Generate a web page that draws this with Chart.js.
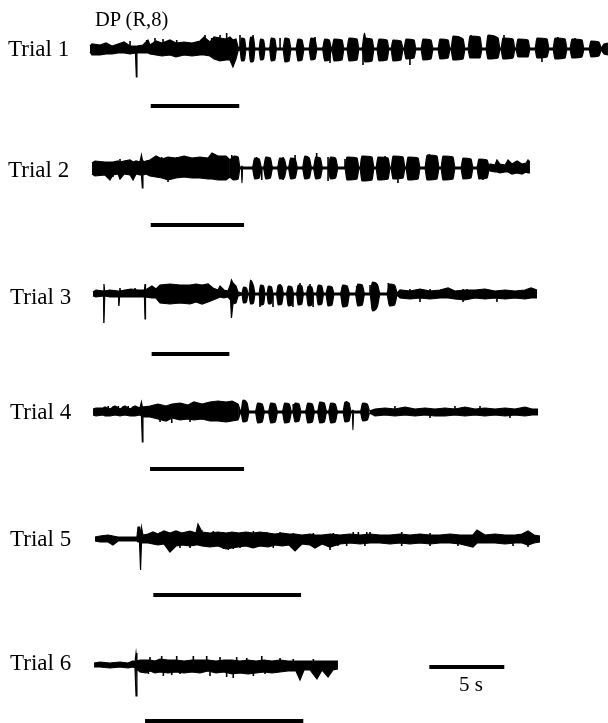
<!DOCTYPE html>
<html>
<head>
<meta charset="utf-8">
<title>DP (R,8)</title>
<script src="https://cdn.jsdelivr.net/npm/chart.js@4.4.1/dist/chart.umd.min.js"></script>
<style>
  html, body { margin: 0; padding: 0; background: #fff; }
  #fig { position: relative; width: 608px; height: 723px; overflow: hidden; }
  #fig canvas { position: absolute; left: 0; top: 0; }
  .txt { position: absolute; font-family: "Liberation Serif", "Times New Roman", serif;
         color: #000; white-space: nowrap; }
</style>
</head>
<body>
<div id="fig">
  <canvas id="chart" width="608" height="723"></canvas>
</div>
<script>
// ---- Text ----
const recordingTitle = 'DP (R,8)';
const trialLabels = ['Trial 1', 'Trial 2', 'Trial 3', 'Trial 4', 'Trial 5', 'Trial 6'];
const scaleBarLabel = '5 s';

// ---- Stimulus bars (s, relative to stimulus onset) ----
const stimOn  = [0.05, 0.05, 0.11, 0.00, 0.22, -0.33];
const stimOff = [5.95, 6.27, 5.29, 6.27, 10.07, 10.22];
const scaleBarSec = [18.62, 23.62];

// ---- Rectified-envelope traces: time (s), upper and lower excursion (a.u.) ----
const tr1Time = [-4.00,-3.87,-3.33,-2.93,-2.53,-2.13,-1.73,-1.33,-0.97,-0.91,-0.87,-0.47,-0.13,0.00,0.40,0.80,1.33,1.73,2.27,2.80,3.33,3.60,4.00,4.27,4.67,5.07,5.33,5.53,5.73,5.87,
  6.00,6.10,6.30,6.40, 6.60,6.70,6.90,7.00, 7.27,7.37,7.57,7.67, 7.97,8.08,8.32,8.43, 8.87,9.00,9.27,9.40, 9.73,9.87,10.13,10.27, 10.60,10.73,11.00,11.13, 11.50,11.65,11.95,12.10, 12.13,12.27,12.80,12.93, 13.13,13.27,13.80,13.93,
  14.13,14.30,14.37,14.80,14.93,
  15.13,15.27,15.80,15.93, 16.07,16.20,16.73,16.87, 16.93,17.07,17.60,17.73, 18.07,18.20,18.73,18.87, 19.20,19.33,19.87,20.00, 20.07,20.20,20.87,21.00, 21.20,21.33,22.00,22.13, 22.40,22.53,23.20,23.33, 23.40,23.53,24.20,24.33, 24.40,24.53,25.20,25.33, 25.67,25.80,26.47,26.60, 26.87,27.00,27.67,27.80, 28.00,28.13,28.80,28.93, 29.27,29.40,29.93,30.07,
  30.27,30.53];
const tr1Hi = [3,5,4,6,3,5,7,3,3,2,3,4,9,4,8,6,9,6,7,6,8,12,7,12,11,10,12,9,10,2,
  1,11,10,1, 1,12,11,1, 1,10,9,1, 1,11,10,1, 1,11,10,1, 1,10,9,1, 1,11,10,1, 1,10,9,1, 1,10,9,1, 1,11,10,1,
  1,16,11,10,1,
  1,10,9,1, 1,9,8,1, 1,10,9,1, 1,10,9,1, 1,10,9,1, 1,13,10,1, 1,13,12,1, 1,14,11,1, 1,11,10,1, 1,10,9,1, 1,11,10,1, 1,11,10,1, 1,10,9,1, 1,8,7,1,
  5,6];
const tr1Lo = [-3,-6,-6,-5,-5,-4,-4,-5,-4,-28,-4,-4,-4,-5,-6,-7,-6,-8,-6,-7,-6,-6,-7,-10,-12,-11,-11,-18,-10,-2,
  -1,-12,-11,-1, -1,-13,-12,-1, -1,-11,-10,-1, -1,-12,-11,-1, -1,-13,-12,-1, -1,-12,-11,-1, -1,-11,-10,-1, -1,-12,-11,-1, -1,-12,-11,-1, -1,-12,-11,-1,
  -1,-12,-13,-12,-1,
  -1,-12,-11,-1, -1,-12,-11,-1, -1,-10,-9,-1, -1,-11,-10,-1, -1,-10,-9,-1, -1,-11,-10,-1, -1,-9,-9,-1, -1,-10,-9,-1, -1,-10,-9,-1, -1,-8,-8,-1, -1,-9,-8,-1, -1,-10,-9,-1, -1,-9,-8,-1, -1,-8,-7,-1,
  -5,-6];

const tr2Time = [-3.87,-3.67,-3.00,-2.67,-2.47,-2.13,-2.00,-1.73,-1.33,-1.13,-0.93,-0.67,-0.57,-0.51,-0.47,-0.27,0.00,0.40,0.80,1.20,1.73,2.27,2.80,3.33,3.87,4.13,4.53,5.07,5.33,
  5.60,5.87,6.00, 6.10,6.13,6.17,
  6.83,6.98,7.28,7.43, 7.57,7.72,8.02,8.17, 8.50,8.65,8.95,9.10, 9.23,9.38,9.68,9.83, 10.17,10.32,10.62,10.77, 10.90,11.05,11.35,11.50, 11.87,12.03,12.37,12.53, 13.00,13.13,13.80,13.93, 14.00,14.13,14.80,14.93, 15.07,15.20,15.87,16.00, 16.07,16.20,16.87,17.00, 17.07,17.20,17.87,18.00, 18.33,18.47,19.13,19.27, 19.40,19.53,20.20,20.33, 20.73,20.87,21.40,21.53, 21.80,21.93,22.47,22.60,
  22.67,23.00,23.13,23.33,23.67,23.87,24.13,24.47,24.80,25.07,25.20,25.33];
const tr2Hi = [5,7,6,6,6,7,6,7,8,6,7,6,13,8,6,7,8,12,9,11,10,12,10,11,10,15,12,12,8,
  12,11,1, 1,2,1,
  1,10,9,1, 1,11,10,1, 1,10,9,1, 1,10,9,1, 1,12,10,1, 1,11,10,1, 1,11,10,1, 1,11,10,1, 1,12,11,1, 1,11,10,1, 1,12,11,1, 1,11,10,1, 1,13,12,1, 1,12,11,1, 1,10,9,1, 1,9,8,1,
  4,3,8,4,3,8,4,7,4,5,8,6];
const tr2Lo = [-6,-8,-7,-12,-7,-6,-11,-6,-7,-12,-6,-7,-7,-20,-7,-6,-8,-9,-10,-12,-10,-9,-10,-10,-11,-11,-12,-12,-9,
  -12,-11,-1, -1,-15,-1,
  -1,-11,-10,-1, -1,-11,-10,-1, -1,-11,-10,-1, -1,-11,-10,-1, -1,-11,-10,-1, -1,-11,-10,-1, -1,-11,-10,-1, -1,-12,-11,-1, -1,-13,-12,-1, -1,-12,-11,-1, -1,-11,-10,-1, -1,-12,-11,-1, -1,-12,-11,-1, -1,-12,-11,-1, -1,-11,-10,-1, -1,-11,-10,-1,
  -3,-4,-4,-5,-4,-4,-6,-5,-6,-4,-5,-5];

const tr3Time = [-3.80,-3.60,-3.10,-3.07,-3.02,-2.67,-2.10,-2.07,-2.03,-1.67,-1.27,-0.80,-0.37,-0.33,-0.30,0.13,0.40,0.67,1.33,2.00,2.67,3.07,3.47,3.87,4.20,4.53,4.67,4.93,5.20,5.37,5.43,5.53,5.73,5.87,
  6.13,6.23,6.43,6.53, 6.60,6.70,6.90,7.00, 7.27,7.37,7.57,7.67, 7.80,7.90,8.10,8.20, 8.43,8.55,8.78,8.90, 9.10,9.22,9.45,9.57, 9.77,9.88,10.12,10.23, 10.43,10.55,10.78,10.90, 11.10,11.22,11.45,11.57, 11.73,11.87,12.13,12.27, 12.70,12.85,13.15,13.30, 13.70,13.85,14.15,14.30, 14.67,14.83,15.17,15.33, 15.80,15.97,16.30,16.47,
  16.67,17.33,18.00,18.67,19.33,19.87,20.33,21.00,21.67,22.33,23.00,23.67,24.33,25.00,25.40,25.80];
const tr3Hi = [2,4,3,10,3,4,3,3,3,4,5,4,4,10,4,8,5,9,10,9,9,10,9,10,6,4,8,4,3,10,14,11,8,2,
  1,7,6,1, 1,14,8,1, 1,9,8,1, 1,8,7,1, 1,9,8,1, 1,8,7,1, 1,9,8,1, 1,8,7,1, 1,9,8,1, 1,8,7,1, 1,9,8,1, 1,10,9,1, 1,12,9,1, 1,10,9,1,
  4,3,5,3,4,6,3,4,4,5,3,4,3,4,6,4];
const tr3Lo = [-2,-3,-2,-29,-2,-3,-3,-12,-3,-3,-3,-3,-3,-25,-3,-4,-4,-9,-10,-9,-10,-8,-10,-8,-6,-4,-3,-4,-3,-6,-24,-10,-9,-2,
  -1,-9,-8,-1, -1,-10,-9,-1, -1,-11,-10,-1, -1,-10,-9,-1, -1,-11,-10,-1, -1,-12,-11,-1, -1,-11,-10,-1, -1,-12,-11,-1, -1,-11,-10,-1, -1,-12,-11,-1, -1,-13,-12,-1, -1,-12,-11,-1, -1,-17,-12,-1, -1,-12,-11,-1,
  -4,-5,-4,-5,-4,-4,-5,-6,-4,-5,-4,-5,-4,-5,-4,-4];

const tr4Time = [-3.80,-3.60,-3.13,-3.00,-2.67,-2.33,-2.00,-1.67,-1.33,-1.00,-0.67,-0.57,-0.51,-0.47,0.00,0.53,1.07,1.47,2.00,2.53,2.93,3.47,4.00,4.53,5.07,5.47,5.87,
  6.07,6.20,6.47,6.60, 7.03,7.18,7.48,7.63, 7.90,8.05,8.35,8.50, 8.83,8.98,9.28,9.43, 9.53,9.67,9.93,10.07, 10.37,10.52,10.82,10.97, 11.17,11.32,11.62,11.77, 11.90,12.05,12.35,12.50, 12.87,13.00,13.27,13.40,
  13.50,13.53,13.57,
  14.03,14.18,14.48,14.63,
  15.00,15.67,16.33,17.00,17.67,18.33,19.00,19.67,20.33,21.00,21.67,22.33,23.00,23.67,24.33,25.00,25.47,25.87];
const tr4Hi = [3,4,4,5,3,6,3,6,3,6,4,10,5,5,6,8,6,8,9,7,10,8,10,11,10,11,8,
  1,12,9,1, 1,9,8,1, 1,9,8,1, 1,9,8,1, 1,9,8,1, 1,9,8,1, 1,10,9,1, 1,9,8,1, 1,10,9,1,
  1,2,1,
  1,9,8,1,
  3,4,3,5,3,4,3,4,3,5,3,4,3,4,3,5,3,3];
const tr4Lo = [-3,-4,-3,-4,-4,-3,-4,-3,-4,-4,-3,-4,-30,-5,-5,-7,-9,-6,-8,-7,-8,-7,-9,-9,-10,-9,-8,
  -1,-10,-9,-1, -1,-11,-10,-1, -1,-11,-10,-1, -1,-11,-10,-1, -1,-10,-9,-1, -1,-11,-10,-1, -1,-11,-10,-1, -1,-11,-10,-1, -1,-10,-9,-1,
  -1,-18,-1,
  -1,-9,-8,-1,
  -4,-3,-4,-3,-4,-3,-4,-4,-3,-4,-3,-4,-3,-4,-3,-4,-3,-3];

const tr5Time = [-3.67,-3.33,-2.80,-2.47,-2.13,-1.67,-1.33,-0.87,-0.80,-0.70,-0.63,-0.57,-0.47,-0.13,0.20,0.53,0.93,1.33,1.73,2.13,2.67,3.07,3.20,3.47,4.00,4.53,5.07,5.47,5.87,6.40,6.87,7.33,7.87,8.33,8.80,9.27,9.67,10.13,10.67,11.00,11.47,12.00,12.67,13.33,14.00,14.67,15.33,16.00,16.67,17.33,18.00,18.67,19.33,20.00,20.67,21.53,21.80,22.33,23.00,23.67,24.33,24.80,25.20,25.60,26.00];
const tr5Hi = [2,3,4,3,2,2,2,2,12,12,4,12,4,5,7,5,8,6,8,6,8,6,15,7,6,7,6,7,6,7,6,7,6,5,6,5,5,4,5,4,4,5,4,5,4,5,4,4,5,4,5,4,4,5,4,4,9,4,5,4,4,5,8,4,3];
const tr5Lo = [-2,-3,-3,-6,-2,-2,-2,-2,-3,-3,-31,-4,-4,-4,-5,-6,-5,-13,-7,-6,-7,-6,-6,-7,-8,-7,-10,-9,-8,-7,-9,-7,-8,-6,-7,-6,-12,-5,-6,-9,-5,-8,-5,-4,-5,-4,-4,-5,-4,-5,-4,-5,-4,-4,-5,-8,-4,-4,-4,-5,-4,-4,-6,-4,-3];

const tr6Time = [-3.73,-3.33,-2.67,-2.00,-1.47,-1.13,-1.00,-0.93,-0.87,-0.67,-0.27,0.00,0.33,0.67,1.20,1.73,2.27,2.80,3.33,3.87,4.40,4.93,5.47,6.00,6.53,7.07,7.60,8.13,8.67,9.20,9.73,10.00,10.27,10.67,11.13,11.47,11.87,12.20,12.53];
const tr6Hi = [2,3,2,3,2,4,3,12,4, 5,5,5,4,6,5,5,4,5,5,5,4,5,5,4,5,4,5,4,5,4, 4,4,4,4,4,4,4,4,4];
const tr6Lo = [-2,-2,-3,-2,-3,-2,-3,-31,-4, -7,-8,-6,-8,-7,-8,-7,-8,-7,-8,-6,-8,-7,-9,-8,-9,-8,-7,-8,-7,-6, -6,-15,-5,-5,-14,-5,-12,-5,-4];

// ---- Isolated single-unit spikes on each trace: time (s), signed peak (a.u.) ----
const tk1Time = [-1.33,-0.22,0.33,0.87,1.78,3.67,4.11,4.67,5.11,6.00,6.87,8.67,11.00,11.78,12.00,14.20,17.33,21.40,23.60,25.87,26.13,27.20,28.33];
const tk1Amp  = [8,9,11,10,9,14,11,14,16,14,14,11,12,10,-14,-16,-16,14,14,11,-13,12,11];
const tk2Time = [-2.89,-2.47,-2.00,-1.13,0.78,1.20,1.78,2.78,5.45,7.11,7.45,8.87,8.87,9.67,11.11,11.87,11.87,13.00,14.11,15.33,15.67,16.45,16.53,16.78,17.67,18.62,18.67,19.00,19.78,20.89,22.20,23.11,24.45,25.11];
const tk2Amp  = [-7,-9,9,-9,11,-14,11,10,13,11,-12,11,-12,13,15,11,-13,9,10,11,12,10,-15,11,11,14,-12,11,11,10,-12,6,7,-5];
const tk3Time = [-2.00,-1.00,0.67,2.00,2.67,3.00,3.45,3.78,4.67,7.33,8.20,8.67,9.33,9.53,10.00,10.67,10.87,11.33,11.89,13.00,13.78,14.67,15.11,15.89,17.33,18.00,18.67,20.00,20.87,20.87,21.13,23.13];
const tk3Amp  = [6,6,7,6,-9,6,-9,7,6,-13,-13,10,8,-13,11,10,-13,9,7,7,8,9,10,11,5,-8,5,5,5,-8,5,-8];
const tk4Time = [-2.78,-2.45,-2.11,-1.78,-1.45,-1.11,0.67,1.45,2.67,2.89,3.78,4.67,5.33,7.33,9.55,10.67,13.11,14.33,16.33,18.67,20.33,22.00,24.00];
const tk4Amp  = [6,6,6,6,6,6,-10,-11,-10,9,9,9,9,9,8,9,11,9,6,-6,6,6,-6];
const tk5Time = [0.11,0.67,1.22,1.78,2.00,2.22,2.67,2.67,3.45,4.22,4.89,4.89,5.22,5.55,5.78,6.00,6.89,6.89,7.78,8.22,8.67,9.55,10.89,10.89,11.89,12.00,12.22,12.53,13.11,13.55,13.89,14.33,14.45,14.67,16.78,16.78,18.67,18.67,20.53,24.20,25.20];
const tk5Amp  = [6,7,7,8,-9,7,7,-9,9,8,7,-10,-11,-10,7,-9,8,-9,7,-9,7,6,6,-8,-8,-11,6,-7,-7,7,7,-7,7,7,7,-7,6,-7,-7,-7,-8];
const tk6Time = [-0.11,0.00,0.78,0.89,1.45,1.78,2.00,2.89,3.78,4.00,4.67,5.11,5.55,5.78,6.45,6.89,7.45,7.67,8.67,9.55,10.89];
const tk6Amp  = [-9,8,9,-11,-10,9,-9,9,9,-11,8,-12,-13,8,7,-11,9,-9,7,6,6];

// Time window (s) of the rhythmic burst episode in each trial
const burstWindow = [[5.87, 30.07], [5.33, 22.60], [5.87, 16.47], [5.87, 14.63], null, null];

// ---- Layout ----
const PX_PER_SEC = 15;
const T_MIN = -10;
const T_MAX = T_MIN + 608 / PX_PER_SEC;
const rowBase = [49, 168, 294, 412, 539, 665];   // trace baselines (axis units from top)
const stimDrop = [57, 57, 60, 57, 56, 56];       // stimulus bar below its trace
const scaleBarY = 667;
const labelPos = [[8, 56], [8, 177], [10, 304], [10, 419], [10, 546], [10, 670]]; // left, text baseline
const titlePos = [95, 26];
const scaleLabelPos = [471, 692];
const LABEL_FONT = 23, TITLE_FONT = 20.5, SCALE_FONT = 21;

const traces = [
  [tr1Time, tr1Hi, tr1Lo], [tr2Time, tr2Hi, tr2Lo], [tr3Time, tr3Hi, tr3Lo],
  [tr4Time, tr4Hi, tr4Lo], [tr5Time, tr5Hi, tr5Lo], [tr6Time, tr6Hi, tr6Lo]
];
const spikes = [[tk1Time, tk1Amp], [tk2Time, tk2Amp], [tk3Time, tk3Amp], [tk4Time, tk4Amp], [tk5Time, tk5Amp], [tk6Time, tk6Amp]];

const datasets = [];
function addBand(up, dn, smooth) {
  const common = { borderColor: '#000', borderWidth: 1.2, pointRadius: 0, tension: 0 };
  if (smooth) common.cubicInterpolationMode = 'monotone';
  datasets.push(Object.assign({ data: up, backgroundColor: '#000', fill: '+1' }, common));
  datasets.push(Object.assign({ data: dn, fill: false }, common));
}
traces.forEach(([t, hi, lo], i) => {
  const n = Math.min(t.length, hi.length, lo.length);
  if (n !== t.length || n !== hi.length || n !== lo.length) {
    console.warn('trace ' + (i + 1) + ' length mismatch', t.length, hi.length, lo.length);
  }
  const up = [], dn = [];
  for (let k = 0; k < n; k++) {
    up.push({ x: t[k], y: -rowBase[i] + hi[k] });
    dn.push({ x: t[k], y: -rowBase[i] + lo[k] });
  }
  const w = burstWindow[i];
  if (!w) { addBand(up, dn, false); return; }
  const a = t.findIndex(v => v >= w[0] - 1e-6);
  const b = t.findIndex(v => v >= w[1] - 1e-6);
  addBand(up.slice(0, a + 1), dn.slice(0, a + 1), false);
  addBand(up.slice(a, b + 1), dn.slice(a, b + 1), true);
  addBand(up.slice(b), dn.slice(b), false);
});
// spikes: vertical strokes from the trace baseline, separated by gaps
spikes.forEach(([t, amp], i) => {
  const pts = [];
  const n = Math.min(t.length, amp.length);
  for (let k = 0; k < n; k++) {
    pts.push({ x: t[k], y: -rowBase[i] }, { x: t[k], y: -rowBase[i] + amp[k] }, { x: t[k], y: null });
  }
  datasets.push({ data: pts, borderColor: '#000', borderWidth: 1.6, fill: false, pointRadius: 0, spanGaps: false });
});
stimOn.forEach((on, i) => {
  const y = -(rowBase[i] + stimDrop[i]);
  datasets.push({ data: [{ x: on, y }, { x: stimOff[i], y }], borderColor: '#000', borderWidth: 4, fill: false, pointRadius: 0 });
});
datasets.push({ data: [{ x: scaleBarSec[0], y: -scaleBarY }, { x: scaleBarSec[1], y: -scaleBarY }], borderColor: '#000', borderWidth: 4, fill: false, pointRadius: 0 });

new Chart(document.getElementById('chart').getContext('2d'), {
  type: 'line',
  data: { datasets },
  options: {
    responsive: false,
    animation: false,
    devicePixelRatio: 1,
    events: [],
    layout: { padding: 0 },
    plugins: { legend: { display: false }, tooltip: { enabled: false }, title: { display: false } },
    scales: {
      x: { type: 'linear', min: T_MIN, max: T_MAX, display: false },
      y: { type: 'linear', min: -723, max: 0, display: false }
    }
  }
});

// ---- Text labels ----
const fig = document.getElementById('fig');
function addText(str, left, baseline, size, center) {
  const d = document.createElement('div');
  d.className = 'txt';
  d.textContent = str;
  d.style.fontSize = size + 'px';
  d.style.lineHeight = size + 'px';
  d.style.top = (baseline - size * 0.8375) + 'px';
  if (center) { d.style.left = (left - 40) + 'px'; d.style.width = '80px'; d.style.textAlign = 'center'; }
  else { d.style.left = left + 'px'; }
  fig.appendChild(d);
}
addText(recordingTitle, titlePos[0], titlePos[1], TITLE_FONT);
trialLabels.forEach((s, i) => addText(s, labelPos[i][0], labelPos[i][1], LABEL_FONT));
addText(scaleBarLabel, scaleLabelPos[0], scaleLabelPos[1], SCALE_FONT, true);
</script>
</body>
</html>
